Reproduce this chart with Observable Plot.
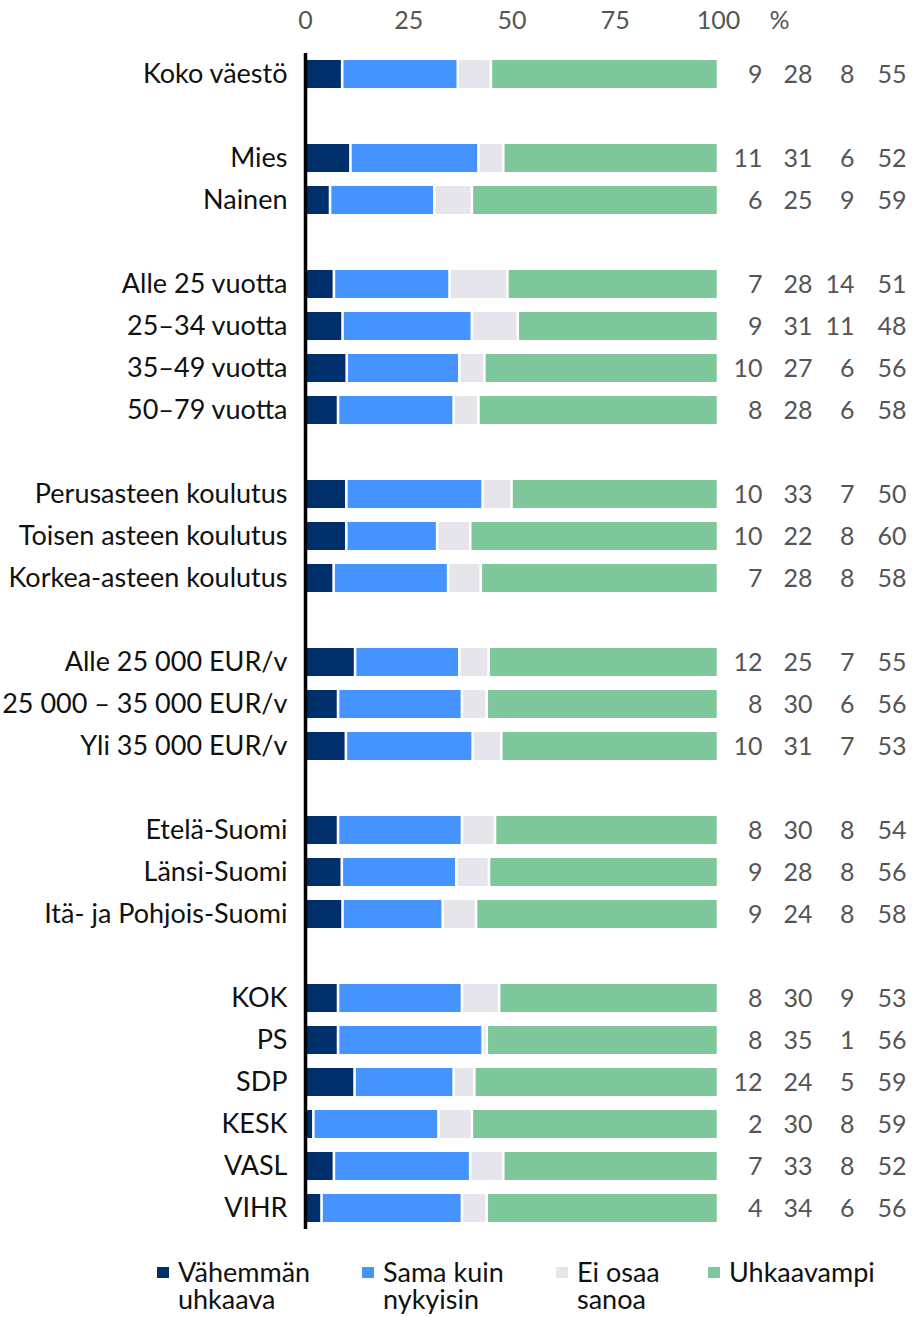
<!DOCTYPE html>
<html>
<head>
<meta charset="utf-8">
<script src="https://cdn.jsdelivr.net/npm/d3@7"></script>
<script src="https://cdn.jsdelivr.net/npm/@observablehq/plot@0.6"></script>
<style>
  body { margin: 0; background: #fff; font-family: Lato, sans-serif; }
  #legend { position: relative; width: 913px; height: 80px; }
  .item { position: absolute; top: 21px; }
  .sw { position: absolute; left: 0; top: 9px; width: 12px; height: 11px; }
  .lbl { position: absolute; left: 21px; top: 0; font-size: 27px; line-height: 27px; color: #111; white-space: nowrap; }
</style>
</head>
<body>
<div id="chart"></div>
<div id="legend"></div>
<script>
const categories = [
  "Koko väestö",
  "Mies", "Nainen",
  "Alle 25 vuotta", "25–34 vuotta", "35–49 vuotta", "50–79 vuotta",
  "Perusasteen koulutus", "Toisen asteen koulutus", "Korkea-asteen koulutus",
  "Alle 25 000 EUR/v", "25 000 – 35 000 EUR/v", "Yli 35 000 EUR/v",
  "Etelä-Suomi", "Länsi-Suomi", "Itä- ja Pohjois-Suomi",
  "KOK", "PS", "SDP", "KESK", "VASL", "VIHR"
];
const groupStarts = ["Mies", "Alle 25 vuotta", "Perusasteen koulutus", "Alle 25 000 EUR/v", "Etelä-Suomi", "KOK"];
const series = ["Vähemmän uhkaava", "Sama kuin nykyisin", "Ei osaa sanoa", "Uhkaavampi"];
const legendLines = [["Vähemmän", "uhkaava"], ["Sama kuin", "nykyisin"], ["Ei osaa", "sanoa"], ["Uhkaavampi"]];
const colors = ["#00306b", "#4593ff", "#e6e5ec", "#7dc79b"];

const lessThreat = [9, 11, 6, 7, 9, 10, 8, 10, 10, 7, 12, 8, 10, 8, 9, 9, 8, 8, 12, 2, 7, 4];
const same       = [28, 31, 25, 28, 31, 27, 28, 33, 22, 28, 25, 30, 31, 30, 28, 24, 30, 35, 24, 30, 33, 34];
const dontKnow   = [8, 6, 9, 14, 11, 6, 6, 7, 8, 8, 7, 6, 7, 8, 8, 8, 9, 1, 5, 8, 8, 6];
const moreThreat = [55, 52, 59, 51, 48, 56, 58, 50, 60, 58, 55, 56, 53, 54, 56, 58, 53, 56, 59, 59, 52, 56];
const xTicks = [0, 25, 50, 75, 100];
const unitLabel = "%";

const valueArrays = [lessThreat, same, dontKnow, moreThreat];
const domain = [];
categories.forEach((c, i) => {
  if (groupStarts.includes(c)) domain.push("gap" + i);
  domain.push(c);
});
const data = categories.flatMap((c, i) =>
  series.map((s, j) => ({category: c, series: s, value: valueArrays[j][i]}))
);
const colOffsets = [44, 94, 136, 188];

const chart = Plot.plot({
  width: 913,
  height: 1237,
  marginTop: 53,
  marginBottom: 8,
  marginLeft: 305,
  marginRight: 195,
  style: {fontFamily: "Lato, sans-serif", fontSize: "25px", background: "#fff"},
  x: {domain: [0, 100], percent: true, axis: null},
  y: {domain, paddingInner: 1/3, paddingOuter: 1/6, axis: null},
  color: {domain: series, range: colors},
  marks: [
    Plot.axisX({anchor: "top", ticks: xTicks, tickSize: 0, tickPadding: 25, fill: "#555", label: null, tickFormat: d => d}),
    Plot.text([unitLabel], {x: 1, text: d => d, frameAnchor: "top", lineAnchor: "bottom", dy: -25, dx: 61, fill: "#555"}),
    Plot.axisY({tickSize: 0, tickPadding: 18, fill: "#111", fontSize: 27, label: null, tickFormat: d => d.startsWith("gap") ? "" : d}),
    Plot.barX(data, Plot.stackX({
      x: "value", y: "category", fill: "series", order: series, offset: "normalize",
      insetLeft: 1.3, insetRight: 1.3
    })),
    Plot.ruleX([0], {stroke: "#000", strokeWidth: 3.5}),
    ...series.map((s, j) => Plot.text(data.filter(d => d.series === s), {
      y: "category", text: "value", frameAnchor: "right", textAnchor: "end", dx: colOffsets[j], fill: "#555"
    }))
  ]
});
document.getElementById("chart").appendChild(chart);

const legendLefts = [157, 362, 556, 708];
const legend = document.getElementById("legend");
series.forEach((s, j) => {
  const item = document.createElement("div");
  item.className = "item";
  item.style.left = legendLefts[j] + "px";
  const sw = document.createElement("span");
  sw.className = "sw";
  sw.style.background = colors[j];
  const lbl = document.createElement("div");
  lbl.className = "lbl";
  lbl.innerHTML = legendLines[j].join("<br>");
  item.appendChild(sw);
  item.appendChild(lbl);
  legend.appendChild(item);
});
</script>
</body>
</html>
